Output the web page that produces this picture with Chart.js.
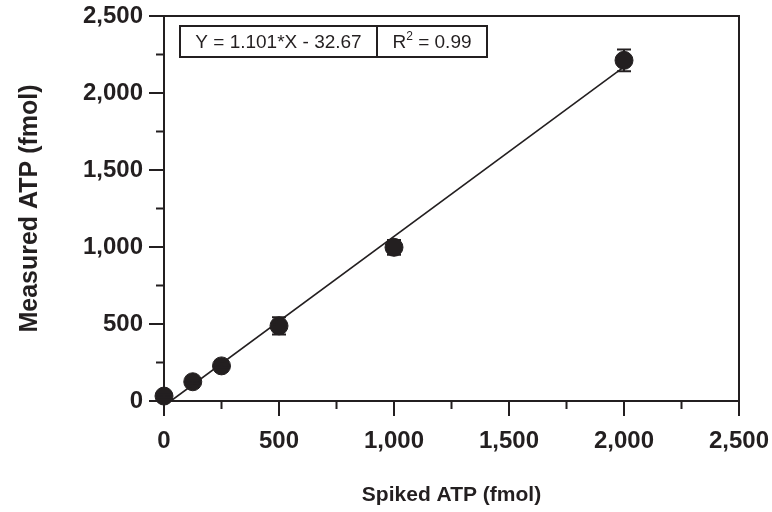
<!DOCTYPE html>
<html>
<head>
<meta charset="utf-8">
<script src="https://cdn.jsdelivr.net/npm/chart.js@4"></script>
<style>
  html, body { margin: 0; padding: 0; background: #fff; }
  #wrap { width: 772px; height: 512px; }
</style>
</head>
<body>
<div id="wrap"><canvas id="atp" width="772" height="512"></canvas></div>
<script>
// data
let spiked = [0, 125, 250, 500, 1000, 2000]
let measured = [32, 125, 228, 488, 998, 2212]
let errs = [8, 10, 12, 56, 48, 70]

let slope = 1.101
let intercept = -32.67
let fitText = 'Y = 1.101*X - 32.67'
let r2Text = '0.99'

let xTicks = [0, 500, 1000, 1500, 2000, 2500]
let yTicks = [0, 500, 1000, 1500, 2000, 2500]

const ink = '#231f20'
const pts = spiked.map((x, i) => ({ x: x, y: measured[i] }))
const fitStart = -intercept / slope
const fitLine = [
  { x: fitStart, y: 0 },
  { x: 2000, y: slope * 2000 + intercept }
]

const fmt = v => v.toLocaleString('en-US')
const fam = '"Liberation Sans", Arial, sans-serif'

// frame, outside ticks (major + minor) and error bars
const decor = {
  id: 'decor',
  beforeDatasetsDraw(chart) {
    const c = chart.ctx
    const a = chart.chartArea
    const xs = chart.scales.x
    const ys = chart.scales.y
    c.save()
    c.strokeStyle = ink
    c.lineWidth = 2
    c.strokeRect(a.left, a.top, a.right - a.left, a.bottom - a.top)
    xs.ticks.forEach(t => {
      const px = xs.getPixelForValue(t.value)
      const len = xTicks.includes(t.value) ? 15 : 8
      c.beginPath()
      c.moveTo(px, a.bottom)
      c.lineTo(px, a.bottom + len)
      c.stroke()
    })
    ys.ticks.forEach(t => {
      const py = ys.getPixelForValue(t.value)
      const len = yTicks.includes(t.value) ? 15 : 8
      c.beginPath()
      c.moveTo(a.left, py)
      c.lineTo(a.left - len, py)
      c.stroke()
    })
    c.restore()
  },
  afterDatasetsDraw(chart) {
    const c = chart.ctx
    const xs = chart.scales.x
    const ys = chart.scales.y
    c.save()
    c.strokeStyle = ink
    c.lineWidth = 2
    spiked.forEach((x, i) => {
      const px = xs.getPixelForValue(x)
      const top = ys.getPixelForValue(measured[i] + errs[i])
      const bot = ys.getPixelForValue(measured[i] - errs[i])
      c.beginPath()
      c.moveTo(px, top); c.lineTo(px, bot)
      c.moveTo(px - 7, top); c.lineTo(px + 7, top)
      c.moveTo(px - 7, bot); c.lineTo(px + 7, bot)
      c.stroke()
    })
    // equation box
    const bx = 180, by = 26, bw = 307, bh = 31, split = 377
    const big = '19px ' + fam, small = '12px ' + fam
    c.lineWidth = 2
    c.strokeRect(bx, by, bw, bh)
    c.beginPath()
    c.moveTo(split, by); c.lineTo(split, by + bh)
    c.stroke()
    c.fillStyle = ink
    c.textBaseline = 'middle'
    c.textAlign = 'center'
    c.font = big
    const my = by + bh / 2 + 1
    c.fillText(fitText, (bx + split) / 2, my)
    const rx = (split + bx + bw) / 2
    c.textAlign = 'left'
    const w1 = c.measureText('R').width
    const rest = ' = ' + r2Text
    const w3 = c.measureText(rest).width
    c.font = small
    const w2 = c.measureText('2').width
    let sx = rx - (w1 + w2 + w3) / 2
    c.font = big
    c.fillText('R', sx, my)
    c.font = small
    c.fillText('2', sx + w1, my - 6)
    c.font = big
    c.fillText(rest, sx + w1 + w2, my)
    c.restore()
  }
}

const tickFont = { family: fam, size: 24, weight: 'bold' }

new Chart(document.getElementById('atp'), {
  type: 'scatter',
  data: {
    datasets: [
      {
        type: 'line',
        data: fitLine,
        borderColor: ink,
        borderWidth: 1.6,
        pointRadius: 0,
        fill: false
      },
      {
        data: pts,
        backgroundColor: ink,
        borderColor: ink,
        pointRadius: 9,
        pointHoverRadius: 9,
        clip: false
      }
    ]
  },
  options: {
    responsive: false,
    animation: false,
    layout: { padding: 0 },
    plugins: { legend: { display: false }, tooltip: { enabled: false } },
    scales: {
      x: {
        min: 0, max: 2500,
        afterFit: s => { s.height = 111; s.paddingLeft = 0; s.paddingRight = 33 },
        border: { display: false },
        grid: { display: false, drawTicks: false },
        ticks: {
          stepSize: 250, color: ink, font: tickFont, padding: 26, maxRotation: 0,
          autoSkip: false,
          callback: v => xTicks.includes(v) ? fmt(v) : ''
        },
        title: { display: true, text: 'Spiked ATP (fmol)', color: ink, font: { family: fam, size: 21, weight: 'bold' }, padding: { top: 0, bottom: 4 } }
      },
      y: {
        min: 0, max: 2500,
        afterFit: s => { s.width = 164; s.paddingTop = 16; s.paddingBottom = 0 },
        border: { display: false },
        grid: { display: false, drawTicks: false },
        ticks: {
          stepSize: 250, color: ink, font: tickFont, padding: 21,
          autoSkip: false,
          callback: v => yTicks.includes(v) ? fmt(v) : ''
        },
        title: { display: true, text: 'Measured ATP (fmol)', color: ink, font: { family: fam, size: 25, weight: 'bold' }, padding: { top: 15, bottom: 0 } }
      }
    }
  },
  plugins: [decor]
})
</script>
</body>
</html>
